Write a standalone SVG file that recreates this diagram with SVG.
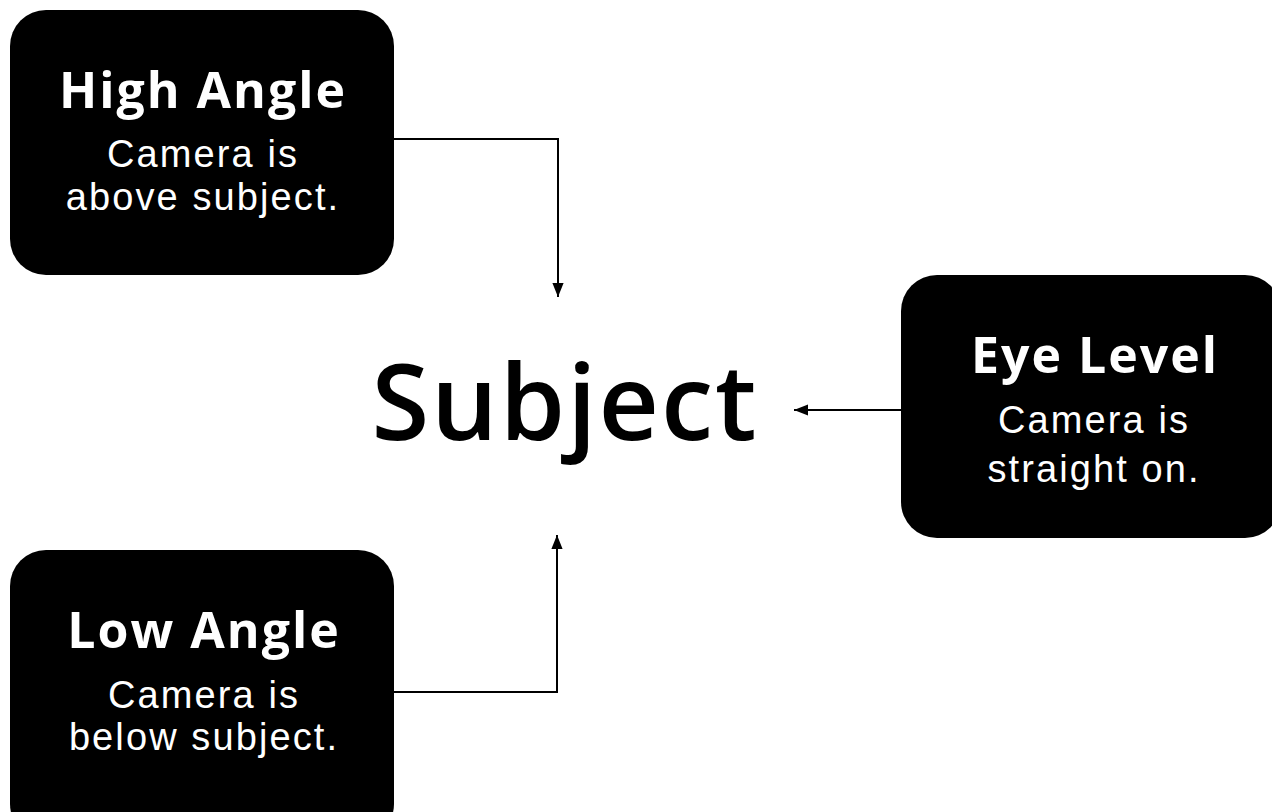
<svg xmlns="http://www.w3.org/2000/svg" width="1272" height="812" viewBox="0 0 1272 812">
<defs>
<style>
.box{fill:#000}
.t{fill:#fff;text-anchor:middle}
.h{font-family:"Open Sans","Liberation Sans",sans-serif;font-size:50px;font-weight:700;letter-spacing:2px}
.b{font-family:"Liberation Sans","Open Sans",sans-serif;font-size:38px;font-weight:400;letter-spacing:2.1px}
.c{fill:none;stroke:#000;stroke-width:2}
</style>
<marker id="ah" viewBox="0 0 10 10" refX="10" refY="5" markerWidth="7" markerHeight="7" orient="auto" markerUnits="strokeWidth">
<path d="M0,1 L10,5 L0,9 Z" fill="#000"/>
</marker>
</defs>
<rect width="1272" height="812" fill="#fff"/>
<g id="connectors">
<path class="c" d="M394,139 H558 V297" marker-end="url(#ah)"/>
<path class="c" d="M394,692 H557 V535" marker-end="url(#ah)"/>
<path class="c" d="M901,410 H794" marker-end="url(#ah)"/>
</g>
<g id="high-angle">
<rect class="box" x="10" y="10" width="384" height="265" rx="36"/>
<text class="t h" x="203" y="108">High Angle</text>
<text class="t b" x="203" y="167">Camera is</text>
<text class="t b" x="203" y="210">above subject.</text>
</g>
<g id="low-angle">
<rect class="box" x="10" y="550" width="384" height="290" rx="36"/>
<text class="t h" x="204" y="648">Low Angle</text>
<text class="t b" x="204" y="708">Camera is</text>
<text class="t b" x="204" y="750">below subject.</text>
</g>
<g id="eye-level">
<rect class="box" x="901" y="275" width="380" height="263" rx="36"/>
<text class="t h" x="1095" y="373">Eye Level</text>
<text class="t b" x="1094" y="433">Camera is</text>
<text class="t b" x="1094" y="482">straight on.</text>
</g>
<g id="subject">
<text x="565" y="440" style="font-family:'Open Sans','Liberation Sans',sans-serif;font-size:105px;font-weight:600;letter-spacing:2px;text-anchor:middle;fill:#000">Subject</text>
</g>
</svg>
